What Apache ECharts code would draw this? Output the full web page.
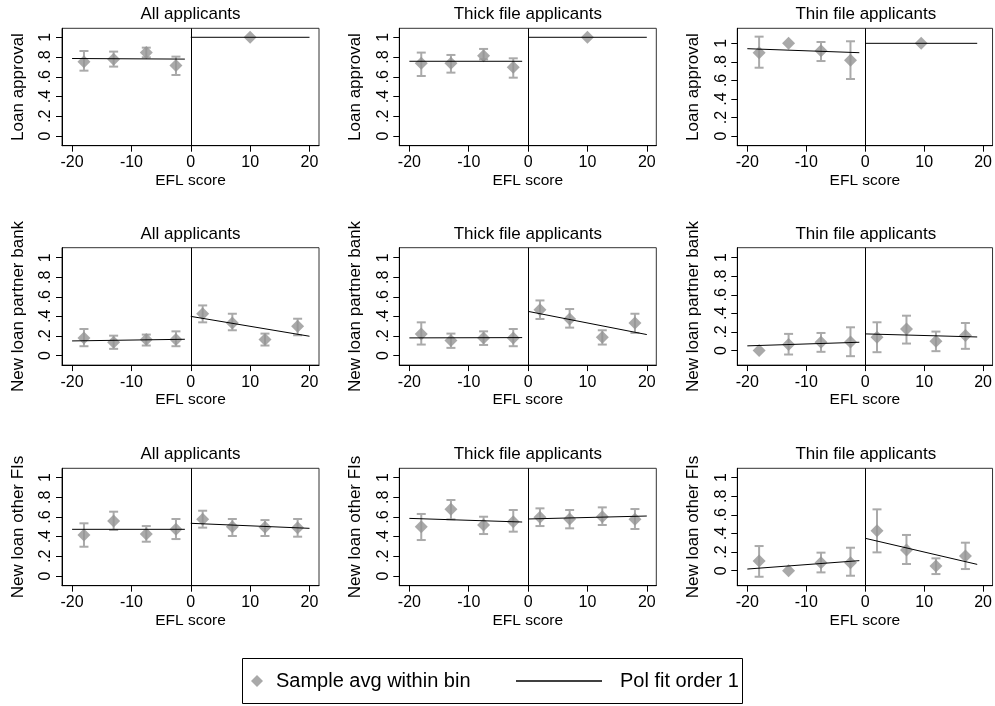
<!DOCTYPE html>
<html>
<head>
<meta charset="utf-8">
<script src="https://cdn.jsdelivr.net/npm/echarts@6/dist/echarts.min.js"></script>
<style>
  html, body { margin: 0; padding: 0; background: #fff; }
  #chart { width: 995px; height: 706px; }
</style>
</head>
<body>
<div id="chart"></div>
<script>
// panel titles / outcome names
const panelTitles = ["All applicants", "Thick file applicants", "Thin file applicants"];
const outcomeNames = ["Loan approval", "New loan partner bank", "New loan other FIs"];
const xTicks = [-20, -10, 0, 10, 20];
const yTicks = [0, 0.2, 0.4, 0.6, 0.8, 1];
const yTickLabels = ["0", ".2", ".4", ".6", ".8", "1"];

// bin midpoints (all, thick, thin)
const approvalX = [
      [-18, -13, -7.5, -2.5, 10],
      [-18, -13, -7.5, -2.5, 10],
      [-18, -13, -7.5, -2.5, 9.5],
];
const bankX = [
      [-18, -13, -7.5, -2.5, 2, 7, 12.5, 18],
      [-18, -13, -7.5, -2.5, 2, 7, 12.5, 18],
      [-18, -13, -7.5, -2.5, 2, 7, 12, 17],
];
const otherX = bankX;

// Loan approval
const approvalMean = [
      [0.753, 0.777, 0.845, 0.713, 1.0],
      [0.736, 0.736, 0.814, 0.696, 1.0],
      [0.899, 1.0, 0.921, 0.817, 1.0],
];
const approvalLo = [
      [0.662, 0.703, 0.797, 0.618, null],
      [0.608, 0.642, 0.777, 0.591, null],
      [0.737, null, 0.809, 0.615, null],
];
const approvalHi = [
      [0.861, 0.855, 0.895, 0.804, null],
      [0.845, 0.821, 0.882, 0.787, null],
      [1.072, null, 1.014, 1.022, null],
];
// fit: [left start, left end, right start, right end]
const approvalFit = [
      [0.785, 0.779, 1.0, 1.0],
      [0.757, 0.757, 1.0, 1.0],
      [0.942, 0.899, 1.0, 1.0],
];

// New loan partner bank
const bankMean = [
      [0.18, 0.136, 0.163, 0.163, 0.427, 0.332, 0.163, 0.298],
      [0.22, 0.153, 0.18, 0.18, 0.468, 0.373, 0.186, 0.332],
      [0.0, 0.064, 0.089, 0.093, 0.143, 0.232, 0.1, 0.161],
];
const bankLo = [
      [0.095, 0.068, 0.102, 0.095, 0.339, 0.258, 0.102, 0.207],
      [0.112, 0.078, 0.108, 0.095, 0.373, 0.285, 0.112, 0.231],
      [null, -0.043, -0.014, -0.061, -0.018, 0.075, -0.007, 0.018],
];
const bankHi = [
      [0.271, 0.203, 0.214, 0.247, 0.512, 0.427, 0.224, 0.376],
      [0.339, 0.224, 0.247, 0.271, 0.563, 0.475, 0.258, 0.427],
      [null, 0.179, 0.189, 0.25, 0.304, 0.375, 0.204, 0.296],
];
const bankFit = [
      [0.149, 0.166, 0.4, 0.197],
      [0.18, 0.183, 0.451, 0.214],
      [0.05, 0.089, 0.179, 0.146],
];

// New loan other FIs
const otherMean = [
      [0.417, 0.559, 0.427, 0.475, 0.576, 0.502, 0.495, 0.492],
      [0.502, 0.678, 0.519, 0.553, 0.597, 0.58, 0.603, 0.576],
      [0.104, 0.0, 0.086, 0.086, 0.43, 0.222, 0.05, 0.158],
];
const otherLo = [
      [0.298, 0.468, 0.349, 0.376, 0.492, 0.407, 0.407, 0.4],
      [0.366, 0.576, 0.427, 0.451, 0.508, 0.485, 0.519, 0.478],
      [-0.065, null, -0.018, -0.054, 0.197, 0.072, -0.036, 0.018],
];
const otherHi = [
      [0.536, 0.654, 0.508, 0.58, 0.664, 0.58, 0.569, 0.58],
      [0.631, 0.773, 0.603, 0.671, 0.688, 0.671, 0.698, 0.681],
      [0.265, null, 0.194, 0.247, 0.659, 0.384, 0.133, 0.301],
];
const otherFit = [
      [0.475, 0.475, 0.536, 0.485],
      [0.586, 0.549, 0.58, 0.61],
      [0.018, 0.108, 0.348, 0.068],
];

// fit line x ranges
const fitLeftX = [-20, -1];
const fitRightX = [[0, 20], [0, 20], [0, 19]];

const rows = [
      { x: approvalX, mean: approvalMean, lo: approvalLo, hi: approvalHi, fit: approvalFit },
      { x: bankX, mean: bankMean, lo: bankLo, hi: bankHi, fit: bankFit },
      { x: otherX, mean: otherMean, lo: otherLo, hi: otherHi, fit: otherFit },
];

// y-axis extents (Stata plot region), [row][col]
const yRange = [
      [[-0.098, 1.091], [-0.098, 1.091], [-0.104, 1.162]],
      [[-0.098, 1.102], [-0.098, 1.102], [-0.157, 1.107]],
      [[-0.098, 1.095], [-0.098, 1.095], [-0.161, 1.1]],
];

const FONT = "'Liberation Sans', Arial, sans-serif";
const colLeft = [62, 399.3, 737.3];
const rowTop = [28.3, 247.7, 468.3];
const plotW = 257;
const plotH = 117.4;

const grids = [], xAxes = [], yAxes = [], titles = [], series = [];

function renderCI(params, api) {
      const x = api.value(0);
      const p1 = api.coord([x, api.value(1)]);
      const p2 = api.coord([x, api.value(2)]);
      const cap = 4.5;
      const style = { stroke: "#aaaaaa", lineWidth: 2, fill: null };
      return {
            type: "group",
            children: [
                  { type: "line", shape: { x1: p1[0], y1: p1[1], x2: p2[0], y2: p2[1] }, style: style },
                  { type: "line", shape: { x1: p1[0] - cap, y1: p1[1], x2: p1[0] + cap, y2: p1[1] }, style: style },
                  { type: "line", shape: { x1: p2[0] - cap, y1: p2[1], x2: p2[0] + cap, y2: p2[1] }, style: style },
            ],
      };
}

for (let r = 0; r < 3; r++) {
      for (let c = 0; c < 3; c++) {
            const idx = r * 3 + c;
            const row = rows[r];
            grids.push({
                  left: colLeft[c],
                  top: rowTop[r],
                  width: plotW,
                  height: plotH,
                  show: true,
                  borderColor: "#333",
                  borderWidth: 1,
                  backgroundColor: "transparent",
            });
            titles.push({
                  text: panelTitles[c],
                  left: colLeft[c] + plotW / 2,
                  top: rowTop[r] - 22,
                  textAlign: "center",
                  padding: 0,
                  textStyle: { fontFamily: FONT, fontSize: 17, fontWeight: "normal", color: "#000" },
            });
            xAxes.push({
                  gridIndex: idx,
                  type: "value",
                  min: -21.7,
                  max: 21.6,
                  name: "EFL score",
                  nameLocation: "middle",
                  nameGap: 27,
                  nameTextStyle: { fontFamily: FONT, fontSize: 15.5, color: "#000" },
                  axisLine: { show: true, onZero: false, lineStyle: { color: "#000", width: 1 } },
                  axisTick: { show: true, length: 6, customValues: xTicks, lineStyle: { color: "#000" } },
                  axisLabel: { customValues: xTicks, fontFamily: FONT, fontSize: 16, color: "#000", margin: 9 },
                  splitLine: { show: false },
            });
            yAxes.push({
                  gridIndex: idx,
                  type: "value",
                  min: yRange[r][c][0],
                  max: yRange[r][c][1],
                  name: outcomeNames[r],
                  nameLocation: "middle",
                  nameGap: 35,
                  nameTextStyle: { fontFamily: FONT, fontSize: 17, color: "#000" },
                  axisLine: { show: true, onZero: false, lineStyle: { color: "#000", width: 1 } },
                  axisTick: { show: true, length: 6, customValues: yTicks, lineStyle: { color: "#000" } },
                  axisLabel: {
                        customValues: yTicks,
                        rotate: 90,
                        fontFamily: FONT,
                        fontSize: 16,
                        color: "#000",
                        margin: 8,
                        formatter: (v) => yTickLabels[yTicks.indexOf(v)],
                  },
                  splitLine: { show: false },
            });

            const xs = row.x[c];
            const ciData = [];
            xs.forEach((v, i) => {
                  if (row.lo[c][i] !== null) ciData.push([v, row.lo[c][i], row.hi[c][i]]);
            });
            series.push({
                  type: "custom",
                  name: "ci",
                  xAxisIndex: idx,
                  yAxisIndex: idx,
                  silent: true,
                  z: 2,
                  renderItem: renderCI,
                  data: ciData,
            });
            series.push({
                  type: "scatter",
                  name: "Sample avg within bin",
                  xAxisIndex: idx,
                  yAxisIndex: idx,
                  symbol: "diamond",
                  symbolSize: 13,
                  itemStyle: { color: "#939393" },
                  z: 3,
                  data: xs.map((v, i) => [v, row.mean[c][i]]),
            });
            const f = row.fit[c];
            series.push({
                  type: "line",
                  name: "Pol fit order 1",
                  xAxisIndex: idx,
                  yAxisIndex: idx,
                  symbol: "none",
                  lineStyle: { color: "#000", width: 1 },
                  itemStyle: { color: "#000" },
                  z: 4,
                  data: [[fitLeftX[0], f[0]], [fitLeftX[1], f[1]]],
                  markLine: {
                        silent: true,
                        symbol: "none",
                        label: { show: false },
                        lineStyle: { color: "#000", width: 1, type: "solid" },
                        data: [{ xAxis: 0 }],
                  },
            });
            series.push({
                  type: "line",
                  name: "Pol fit order 1",
                  xAxisIndex: idx,
                  yAxisIndex: idx,
                  symbol: "none",
                  lineStyle: { color: "#000", width: 1 },
                  itemStyle: { color: "#000" },
                  z: 4,
                  data: [[fitRightX[c][0], f[2]], [fitRightX[c][1], f[3]]],
            });
      }
}

const chart = echarts.init(document.getElementById("chart"));
chart.setOption({
      animation: false,
      backgroundColor: "#fff",
      title: titles,
      grid: grids,
      xAxis: xAxes,
      yAxis: yAxes,
      legend: [
            {
                  data: [{ name: "Sample avg within bin", icon: "diamond" }],
                  left: 251,
                  top: 671,
                  padding: 0,
                  itemWidth: 12,
                  itemHeight: 12,
                  selectedMode: false,
                  textStyle: { fontFamily: FONT, fontSize: 20, color: "#000", padding: [0, 0, 0, 8] },
            },
            {
                  data: [{ name: "Pol fit order 1", icon: "rect", itemStyle: { color: "#000" } }],
                  left: 516,
                  top: 671,
                  padding: 0,
                  itemWidth: 86,
                  itemHeight: 1.6,
                  selectedMode: false,
                  textStyle: { fontFamily: FONT, fontSize: 20, color: "#000", padding: [0, 0, 0, 13] },
            },
      ],
      graphic: [
            {
                  type: "rect",
                  shape: { x: 242.5, y: 658.5, width: 500, height: 45 },
                  style: { fill: null, stroke: "#000", lineWidth: 1 },
                  silent: true,
            },
      ],
      series: series,
});
</script>
</body>
</html>
